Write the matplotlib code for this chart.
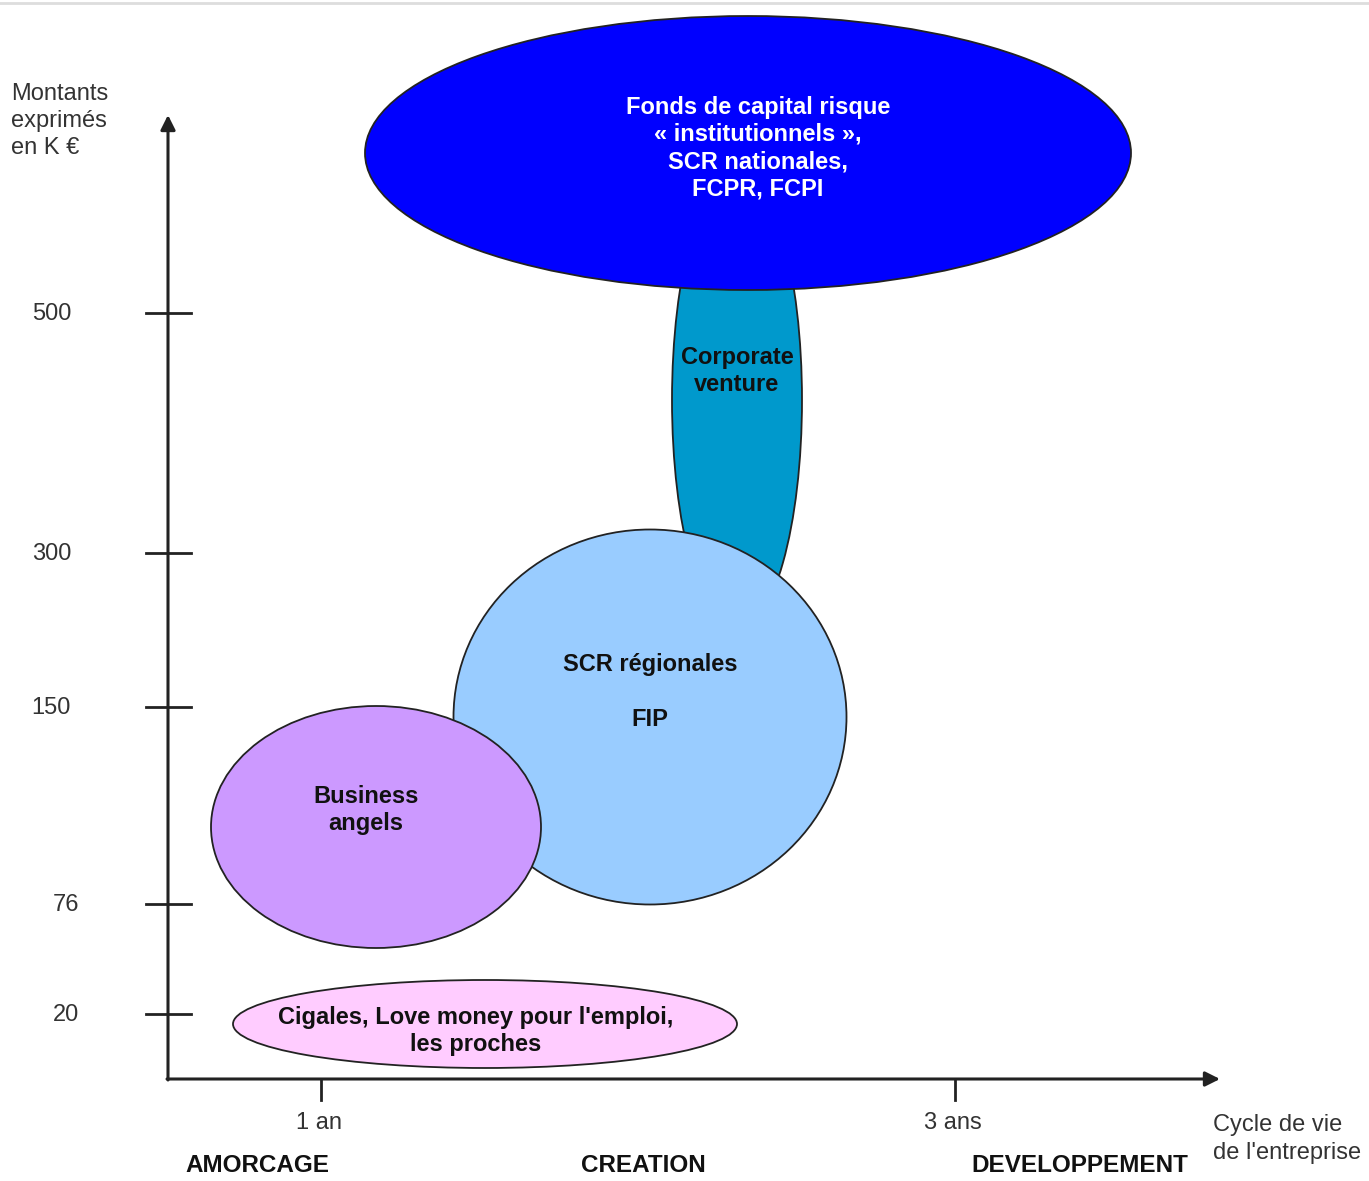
import matplotlib.pyplot as plt
from matplotlib.patches import Ellipse

plt.rcParams['font.family'] = ['Liberation Sans', 'DejaVu Sans']

# graduations de l'axe vertical (montants en K euros)
y_labels = ["500", "300", "150", "76", "20"]
y_pos = [313, 553, 707, 904, 1014]
y_lab_right = [71, 71, 71, 79, 79]

# graduations de l'axe horizontal
x_labels = ["1 an", "3 ans"]
x_pos = [321, 955]

# phases du cycle de vie
phases = ["AMORCAGE", "CREATION", "DEVELOPPEMENT"]
phases_x = [257, 643, 1080]

# financeurs (ordre de dessin)
financeurs = ["Corporate\nventure",
              "Fonds de capital risque\n« institutionnels »,\nSCR nationales,\nFCPR, FCPI",
              "SCR régionales\n\nFIP",
              "Business\nangels",
              "Cigales, Love money pour l'emploi,\nles proches"]
# centre x, centre y, largeur, hauteur (en pixels)
formes = [(737, 400, 130, 460),
          (748, 153, 766, 274),
          (650, 717, 393, 375),
          (376, 827, 330, 242),
          (485, 1024, 504, 88)]
couleurs = ["#0099CC", "#0000FF", "#99CCFF", "#CC99FF", "#FFCCFF"]
textes_pos = [(737, 371), (758, 148), (650, 692), (366, 810), (476, 1031)]
textes_col = ["#111111", "white", "#111111", "#111111", "#111111"]

fig = plt.figure(figsize=(13.69, 11.81), dpi=100)
ax = fig.add_axes([0, 0, 1, 1])
ax.set_xlim(0, 1369)
ax.set_ylim(1181, 0)
ax.axis('off')

# liseré gris en haut
ax.plot([0, 1369], [3, 3], color="#dddddd", lw=2)

for i in range(len(financeurs)):
    cx, cy, w, h = formes[i]
    ax.add_patch(Ellipse((cx, cy), w, h, facecolor=couleurs[i],
                         edgecolor="#222222", lw=1.3, zorder=2 + i))
    tx, ty = textes_pos[i]
    ax.text(tx, ty, financeurs[i], ha='center', va='center', fontsize=17,
            fontweight='bold', color=textes_col[i], linespacing=1.24,
            zorder=10)

# axes avec fleches
ax.annotate("", xy=(168, 115), xytext=(168, 1080),
            arrowprops=dict(arrowstyle="-|>", color="#222222", lw=2.2,
                            mutation_scale=22, shrinkA=0, shrinkB=0))
ax.annotate("", xy=(1220, 1079), xytext=(167, 1079),
            arrowprops=dict(arrowstyle="-|>", color="#222222", lw=2.2,
                            mutation_scale=22, shrinkA=0, shrinkB=0))

for lab, y, xr in zip(y_labels, y_pos, y_lab_right):
    ax.plot([146, 191], [y, y], color="#222222", lw=2)
    ax.text(xr, y + 1, lab, ha='right', va='center', fontsize=17,
            color="#333333")

for lab, x in zip(x_labels, x_pos):
    ax.plot([x, x], [1079, 1100], color="#222222", lw=2)
    ax.text(x - 2, 1123, lab, ha='center', va='center', fontsize=17,
            color="#333333")

for lab, x in zip(phases, phases_x):
    ax.text(x, 1166, lab, ha='center', va='center', fontsize=17.5,
            fontweight='bold', color="#111111")

ax.text(11, 121, "Montants\nexprimés\nen K €", ha='left', va='center',
        fontsize=17, color="#333333", linespacing=1.32)
ax.text(1213, 1139, "Cycle de vie\nde l'entreprise", ha='left', va='center',
        fontsize=17, color="#333333", linespacing=1.32)

fig.savefig("out.png", dpi=100)
